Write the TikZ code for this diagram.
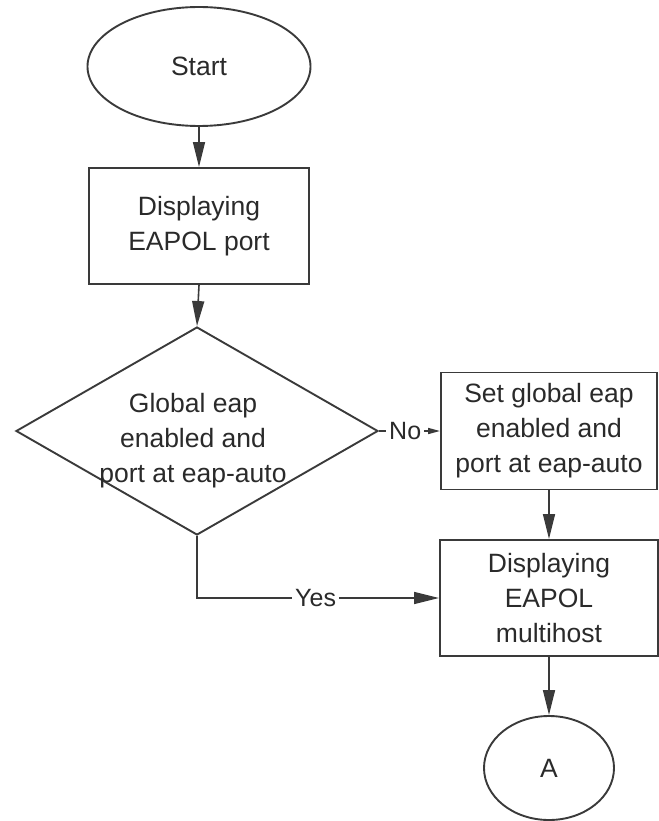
\documentclass[tikz,border=0pt]{standalone}
\usepackage{fontspec}
\setmainfont{Liberation Sans}
\usetikzlibrary{shapes.geometric,arrows.meta}
\definecolor{ink}{HTML}{2A2A2A}
\definecolor{edge}{HTML}{3A3A3A}
\begin{document}
\begin{tikzpicture}[x=1pt,y=-1pt,
  every node/.style={text=ink},
  base/.style={draw=edge, line width=1.9pt, inner sep=0pt, align=center,
    font=\fontsize{26.5}{35}\selectfont},
  terminal/.style={base, ellipse},
  procbox/.style={base, rectangle},
  decision/.style={base, diamond},
  txt/.style={inner sep=0pt, align=center, font=\fontsize{26.5}{35}\selectfont},
  lbl/.style={fill=white, inner sep=3pt, font=\fontsize{25}{30}\selectfont},
  conn/.style={draw=edge, line width=1.6pt, -{Triangle[length=25pt,width=12pt]}},
  shortconn/.style={draw=edge, line width=1.6pt, -{Triangle[length=12pt,width=6pt]}}
]
\useasboundingbox (0,0) rectangle (658,821);
\node[terminal, minimum width=223pt, minimum height=119pt] (start) at (199,66.5) {Start};
\node[procbox, minimum width=220pt, minimum height=116pt] (disp) at (199,226) {Displaying\\EAPOL port};
\node[decision, minimum width=362pt, minimum height=208pt] (dec) at (197,431) {};
\node[txt] (dectext) at (193,441) {Global eap\\enabled and\\port at eap-auto};
\node[procbox, minimum width=216pt, minimum height=117pt] (setbox) at (549,431) {Set global eap\\enabled and\\port at eap-auto};
\node[procbox, minimum width=218pt, minimum height=116pt] (multi) at (549,598) {Displaying\\EAPOL\\multihost};
\node[terminal, minimum width=130pt, minimum height=104pt] (endA) at (549,768) {A};

\draw[conn] (start.south) -- (disp.north);
\draw[conn] (disp.south) -- (dec.north);
\draw[shortconn] (dec.east) -- node[lbl, pos=0.43] (nolbl) {No} (setbox.west);
\draw[conn] (setbox.south) -- (multi.north);
\draw[conn] (dec.south) |- node[lbl, pos=0.745] (yeslbl) {Yes} (multi.west);
\draw[conn] (multi.south) -- (endA.north);
\end{tikzpicture}
\end{document}
